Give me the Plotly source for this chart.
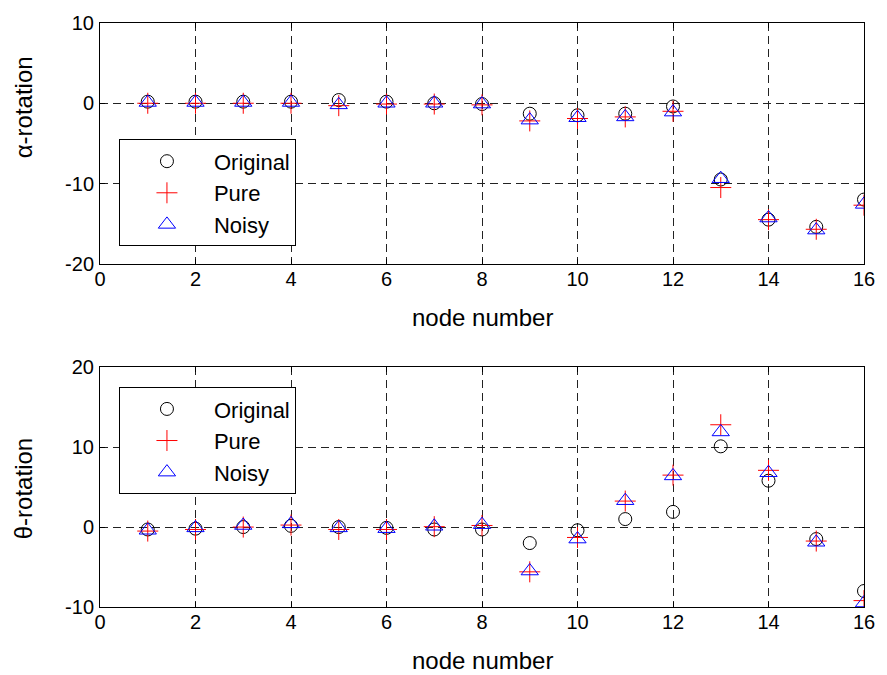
import plotly.graph_objects as go

nodes = list(range(1, 17))

alpha_original = [0.2, 0.2, 0.2, 0.2, 0.4, 0.2, 0.0, -0.1, -1.3, -1.5, -1.3, -0.4, -9.5, -14.5, -15.4, -12.0]
alpha_pure = [0.0, 0.0, 0.0, 0.0, -0.3, -0.1, -0.1, -0.2, -2.2, -1.9, -1.7, -1.0, -10.5, -14.5, -15.7, -12.7]
alpha_noisy = [0.1, 0.1, 0.1, 0.1, -0.2, 0.0, 0.0, -0.1, -2.1, -1.8, -1.7, -1.1, -9.4, -14.3, -15.8, -12.6]

theta_original = [-0.3, -0.2, 0.0, 0.15, 0.0, -0.1, -0.3, -0.3, -2.0, -0.4, 1.0, 1.9, 10.1, 5.8, -1.5, -8.0]
theta_pure = [-0.5, -0.3, 0.0, 0.25, -0.3, -0.3, 0.05, 0.2, -5.6, -1.3, 3.25, 6.5, 12.8, 7.1, -1.75, -9.2]
theta_noisy = [-0.4, -0.1, 0.2, 0.4, -0.1, -0.2, 0.1, 0.3, -5.5, -1.5, 3.3, 6.4, 11.9, 6.8, -1.9, -9.5]

x_ticks = [0, 2, 4, 6, 8, 10, 12, 14, 16]
alpha_ticks = [-20, -10, 0, 10]
alpha_tick_labels = ["-20", "-10", "0", "10"]
theta_ticks = [-10, 0, 10, 20]
theta_tick_labels = ["-10", "0", "10", "20"]

FONT = "Arial, Liberation Sans, Helvetica, sans-serif"

fig = go.Figure()

def add_series(xa, ya, orig, pure, noisy, legend):
    fig.add_trace(go.Scatter(x=nodes, y=orig, mode="markers", name="Original",
                             xaxis=xa, yaxis=ya, legend=legend,
                             marker=dict(symbol="circle-open", size=13, color="black",
                                         line=dict(width=1, color="black"))))
    fig.add_trace(go.Scatter(x=nodes, y=pure, mode="markers", name="Pure",
                             xaxis=xa, yaxis=ya, legend=legend,
                             marker=dict(symbol="cross-thin-open", size=15, color="red",
                                         line=dict(width=1, color="red"))))
    fig.add_trace(go.Scatter(x=nodes, y=noisy, mode="markers", name="Noisy",
                             xaxis=xa, yaxis=ya, legend=legend,
                             marker=dict(symbol="triangle-up-open", size=15, color="blue",
                                         line=dict(width=1, color="blue"))))

add_series("x", "y", alpha_original, alpha_pure, alpha_noisy, "legend")
add_series("x2", "y2", theta_original, theta_pure, theta_noisy, "legend2")

axis_common = dict(
    showline=True, linecolor="black", linewidth=1, mirror="ticks",
    ticks="inside", ticklen=5, tickcolor="black", tickwidth=1,
    showgrid=True, gridcolor="#222", gridwidth=1, griddash="8px,5px",
    zeroline=False, tickfont=dict(family=FONT, size=20, color="black"),
)

fig.update_layout(
    width=887, height=675,
    margin=dict(l=100, r=20, t=20, b=68),
    paper_bgcolor="white", plot_bgcolor="white",
    font=dict(family=FONT, color="black"),
    xaxis=dict(domain=[0, 1], range=[0, 16], tickvals=x_ticks, anchor="y",
               ticklabelstandoff=-3, **axis_common),
    yaxis=dict(domain=[0.5877, 1.0], range=[-20, 10], tickvals=alpha_ticks,
               ticktext=alpha_tick_labels, anchor="x",
               ticklabelstandoff=1, **axis_common),
    xaxis2=dict(domain=[0, 1], range=[0, 16], tickvals=x_ticks, anchor="y2",
                ticklabelstandoff=-3, **axis_common),
    yaxis2=dict(domain=[0, 0.4106], range=[-10, 20], tickvals=theta_ticks,
                ticktext=theta_tick_labels, anchor="x2",
                ticklabelstandoff=1, **axis_common),
    legend=dict(x=0.0248, y=0.8007, xanchor="left", yanchor="top",
                bgcolor="white", bordercolor="black", borderwidth=1,
                font=dict(family=FONT, size=22, color="black"), itemwidth=84),
    legend2=dict(x=0.0248, y=0.3765, xanchor="left", yanchor="top",
                 bgcolor="white", bordercolor="black", borderwidth=1,
                 font=dict(family=FONT, size=22, color="black"), itemwidth=84),
    annotations=[
        dict(text="node number", xref="paper", yref="paper", x=0.5, y=0.4957,
             xanchor="center", yanchor="middle", showarrow=False,
             font=dict(family=FONT, size=24, color="black")),
        dict(text="node number", xref="paper", yref="paper", x=0.5, y=-0.092,
             xanchor="center", yanchor="middle", showarrow=False,
             font=dict(family=FONT, size=24, color="black")),
        dict(text="α-rotation", xref="paper", yref="paper", x=-0.1, y=0.855,
             xanchor="center", yanchor="middle", showarrow=False, textangle=-90,
             font=dict(family=FONT, size=24, color="black")),
        dict(text="θ-rotation", xref="paper", yref="paper", x=-0.1, y=0.2027,
             xanchor="center", yanchor="middle", showarrow=False, textangle=-90,
             font=dict(family=FONT, size=24, color="black")),
    ],
)

fig.write_html("out.html", config={"displayModeBar": False})

# remove the default page margin so the figure sits at the window's top-left corner
with open("out.html", "r", encoding="utf-8") as f:
    html = f.read()
html = html.replace("<head>", "<head><style>html,body{margin:0;padding:0;overflow:hidden}</style>", 1)
with open("out.html", "w", encoding="utf-8") as f:
    f.write(html)
